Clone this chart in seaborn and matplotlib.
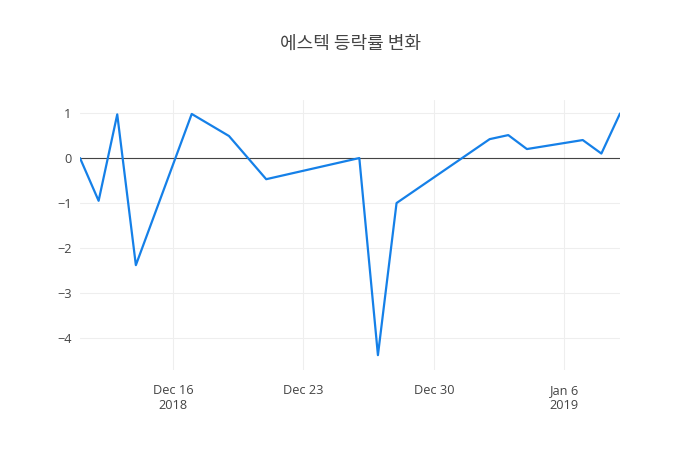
import matplotlib
matplotlib.use("Agg")
import matplotlib.pyplot as plt
import seaborn as sns
import pandas as pd
import numpy as np

# 에스텍 daily change rate (%)
dates = ["2018-12-11", "2018-12-12", "2018-12-13", "2018-12-14", "2018-12-17",
         "2018-12-19", "2018-12-21", "2018-12-26", "2018-12-27", "2018-12-28",
         "2019-01-02", "2019-01-03", "2019-01-04", "2019-01-07", "2019-01-08",
         "2019-01-09"]
rates = [0.0, -0.95, 0.97, -2.38, 0.98, 0.49, -0.47, 0.0, -4.38, -1.0,
         0.42, 0.51, 0.2, 0.4, 0.1, 0.99]
tick_dates = ["2018-12-16", "2018-12-23", "2018-12-30", "2019-01-06"]
tick_labels = ["Dec 16\n2018", "Dec 23", "Dec 30", "Jan 6\n2019"]
y_ticks = [1, 0, -1, -2, -3, -4]

df = pd.DataFrame({"date": pd.to_datetime(dates), "rate": rates})

sns.set_style("white")
plt.rcParams["font.family"] = ["Open Sans", "Noto Sans CJK KR", "DejaVu Sans"]

fig = plt.figure(figsize=(7, 4.5), dpi=100)
ax = fig.add_axes([80 / 700, 80 / 450, 540 / 700, 270 / 450])

sns.lineplot(data=df, x="date", y="rate", ax=ax, color="#1580e8", linewidth=1.6)
ax.axhline(0, color="#444444", linewidth=0.8, zorder=1)

ax.set_xlim(pd.Timestamp("2018-12-11"), pd.Timestamp("2019-01-09"))
ax.set_ylim(-4.71, 1.29)
ax.set_xticks(pd.to_datetime(tick_dates))
ax.set_xticklabels(tick_labels)
ax.set_yticks(y_ticks)
ax.set_yticklabels([str(v).replace("-", "\u2212") for v in y_ticks])

ax.grid(True, color="#eeeeee", linewidth=0.8)
ax.set_axisbelow(True)
for s in ax.spines.values():
    s.set_visible(False)
ax.tick_params(axis="both", length=0, labelsize=9.2, colors="#444444")
ax.tick_params(axis="x", pad=10)
ax.tick_params(axis="y", pad=6)
ax.set_xlabel("")
ax.set_ylabel("")

fig.text(0.5, 1 - 44 / 450, "에스텍 등락률 변화", ha="center", va="center",
         fontsize=13, color="#444444", family=["Noto Sans CJK KR", "DejaVu Sans"])

fig.savefig("out.png", dpi=100)
